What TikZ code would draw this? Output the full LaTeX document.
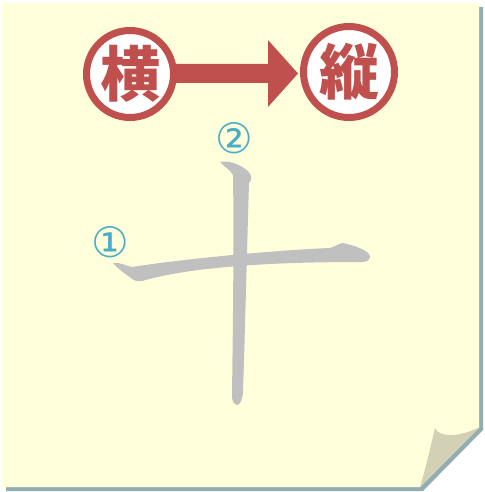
\documentclass[tikz,border=0pt]{standalone}
\usepackage{fontspec}
\newfontfamily\cjk{Noto Sans CJK JP}
\newfontfamily\dejavu{DejaVu Sans}
\definecolor{paper}{HTML}{FFFFDC}
\definecolor{shadowc}{HTML}{93AEB3}
\definecolor{flapc}{HTML}{D2D1B5}
\definecolor{redc}{HTML}{C0504D}
\definecolor{strokec}{HTML}{C0C0C0}
\definecolor{numc}{HTML}{4BACC6}
\tikzset{
  ring/.style={circle, draw=redc, line width=7pt, fill=white, minimum size=#1, inner sep=0pt, text=redc, font=\cjk\bfseries\fontsize{60}{60}\selectfont},
  num/.style={text=numc, font=\dejavu\fontsize{42}{42}\selectfont, inner sep=0pt}
}
\begin{document}
\begin{tikzpicture}[x=1pt,y=-1pt]
\useasboundingbox (0,0) rectangle (484,492);
% shadow and paper
\fill[shadowc] (6,7) -- (483,7) -- (483,430) -- (423,491) -- (6,491) -- cycle;
\fill[paper] (2,3) -- (479,3) -- (479,427) -- (420,487) -- (2,487) -- cycle;
\fill[flapc] (435,428) .. controls (439,438) and (460,437) .. (480,427) -- (420,487) .. controls (426,466) .. (435,428) -- cycle;
% arrow
\fill[redc] (170,64) -- (268,64) -- (268,40) -- (298,73.5) -- (268,107) -- (268,83) -- (170,83) -- cycle;
% circles
\node[ring=87pt] (yoko) at (130,74) {横};
\node[ring=91pt] (tate) at (349,72) {縦};
% character strokes
\fill[strokec] (113,263) .. controls (120,262) and (126,266) .. (132,267)
  .. controls (190,258) and (280,250) .. (330,248)
  .. controls (336,246) and (340,243) .. (343,243)
  .. controls (352,245) and (370,250) .. (370,257)
  .. controls (369,261) and (366,262) .. (362,262)
  .. controls (300,262) and (200,264) .. (142,281)
  .. controls (137,282) and (133,280) .. (131,278)
  .. controls (124,273) and (117,268) .. (113,263) -- cycle;
\fill[strokec] (220,162) .. controls (228,160) and (238,164) .. (244,168)
  .. controls (250,172) and (254,177) .. (249,183)
  .. controls (247,250) and (245,330) .. (243,393)
  .. controls (242,400) and (240,405) .. (237,405)
  .. controls (233,404) and (232,400) .. (232,395)
  .. controls (233,320) and (234,240) .. (233,175)
  .. controls (230,170) and (225,167) .. (220,162) -- cycle;
% numbers
\node[num] (n1) at (110,242) {①};
\node[num] (n2) at (234,138) {②};
\end{tikzpicture}
\end{document}
